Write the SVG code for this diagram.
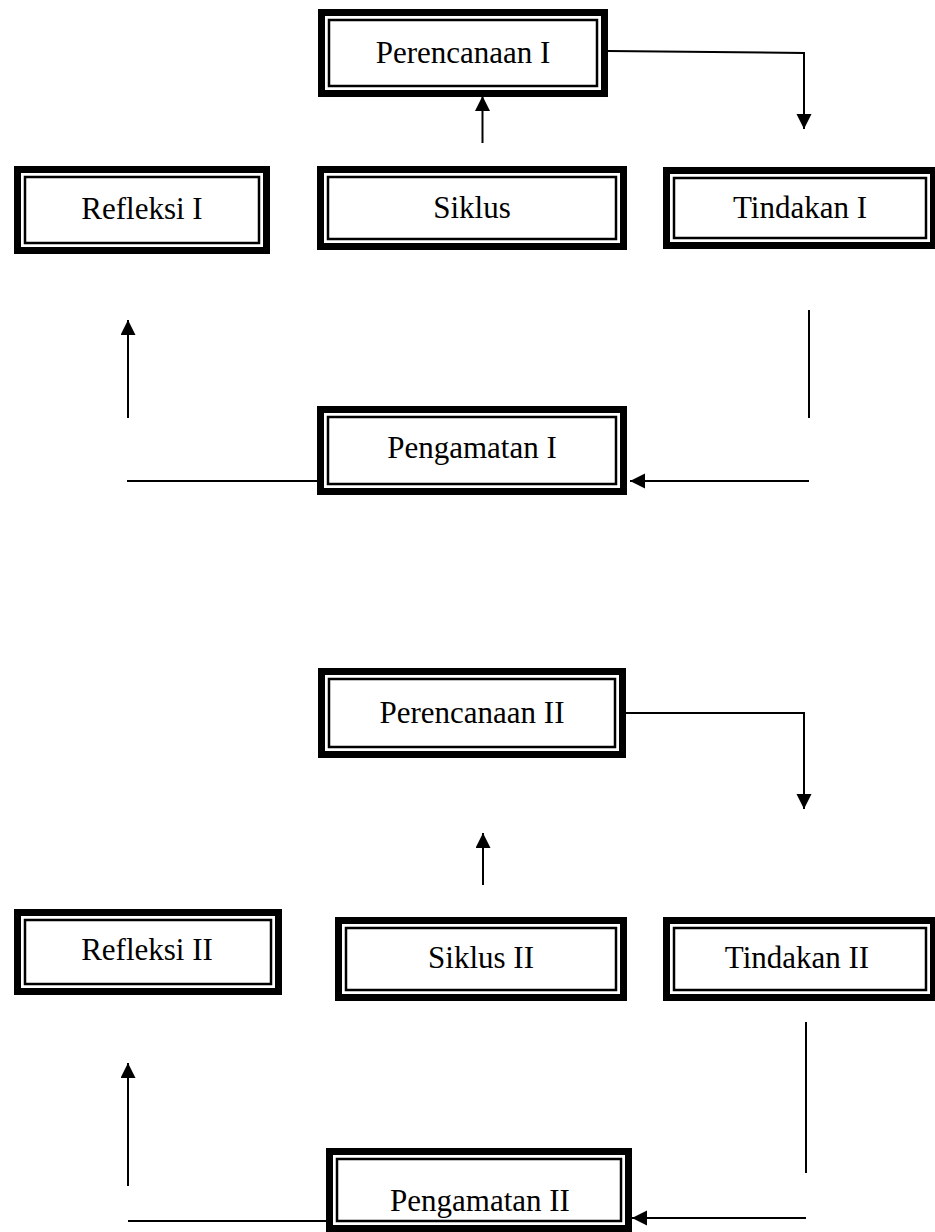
<svg xmlns="http://www.w3.org/2000/svg" width="935" height="1232" viewBox="0 0 935 1232">
<style>
.o{fill:#fff;stroke:#000;stroke-width:7}
.i{fill:none;stroke:#000;stroke-width:2.5}
.t{font-family:"Liberation Serif","Times New Roman",serif;font-size:31px;fill:#000;text-anchor:middle}
.c{fill:none;stroke:#000;stroke-width:2}
</style>
<defs>
<marker id="ah" markerUnits="userSpaceOnUse" markerWidth="16" markerHeight="16" refX="15" refY="7.5" orient="auto">
<path d="M0,0 L15,7.5 L0,15 Z" fill="#000"/>
</marker>
</defs>
<rect width="935" height="1232" fill="#fff"/>
<g id="connectors">
<polyline class="c" points="608,51 804,53 804,129" marker-end="url(#ah)"/>
<line class="c" x1="482.5" y1="143" x2="482.5" y2="96" marker-end="url(#ah)"/>
<line class="c" x1="809" y1="310" x2="809" y2="418"/>
<line class="c" x1="809" y1="481" x2="630" y2="481" marker-end="url(#ah)"/>
<line class="c" x1="127" y1="481" x2="317" y2="481"/>
<line class="c" x1="128" y1="418" x2="128" y2="320" marker-end="url(#ah)"/>
<polyline class="c" points="626,713 804,713 804,809" marker-end="url(#ah)"/>
<line class="c" x1="483" y1="885" x2="483" y2="833" marker-end="url(#ah)"/>
<line class="c" x1="806" y1="1022" x2="806" y2="1173"/>
<line class="c" x1="806" y1="1218" x2="632" y2="1218" marker-end="url(#ah)"/>
<line class="c" x1="128" y1="1221" x2="326" y2="1221"/>
<line class="c" x1="128" y1="1186" x2="128" y2="1063" marker-end="url(#ah)"/>
</g>
<g id="perencanaan1">
<rect class="o" x="321.5" y="12.5" width="283" height="81"/>
<rect class="i" x="329" y="20" width="268" height="66"/>
<text class="t" x="463" y="63">Perencanaan I</text>
</g>
<g id="refleksi1">
<rect class="o" x="17.5" y="169.5" width="249" height="81"/>
<rect class="i" x="25" y="177" width="234" height="66"/>
<text class="t" x="142" y="219">Refleksi I</text>
</g>
<g id="siklus1">
<rect class="o" x="320.5" y="169.5" width="303" height="77"/>
<rect class="i" x="328" y="177" width="288" height="62"/>
<text class="t" x="472" y="218">Siklus</text>
</g>
<g id="tindakan1">
<rect class="o" x="666.5" y="170.5" width="267" height="75"/>
<rect class="i" x="674" y="178" width="252" height="60"/>
<text class="t" x="800" y="218">Tindakan I</text>
</g>
<g id="pengamatan1">
<rect class="o" x="320.5" y="409.5" width="303" height="82"/>
<rect class="i" x="328" y="417" width="288" height="67"/>
<text class="t" x="472" y="458">Pengamatan I</text>
</g>
<g id="perencanaan2">
<rect class="o" x="321.5" y="671.5" width="301" height="83"/>
<rect class="i" x="329" y="679" width="286" height="68"/>
<text class="t" x="472" y="723">Perencanaan II</text>
</g>
<g id="refleksi2">
<rect class="o" x="17.5" y="912.5" width="261" height="79"/>
<rect class="i" x="25" y="920" width="246" height="64"/>
<text class="t" x="147" y="960">Refleksi II</text>
</g>
<g id="siklus2">
<rect class="o" x="338.5" y="920.5" width="285" height="77"/>
<rect class="i" x="346" y="928" width="270" height="62"/>
<text class="t" x="481" y="968">Siklus II</text>
</g>
<g id="tindakan2">
<rect class="o" x="666.5" y="920.5" width="267" height="77"/>
<rect class="i" x="674" y="928" width="252" height="62"/>
<text class="t" x="797" y="968">Tindakan II</text>
</g>
<g id="pengamatan2">
<rect class="o" x="329.5" y="1151.5" width="299" height="77"/>
<rect class="i" x="337" y="1159" width="284" height="62"/>
<text class="t" x="480" y="1211">Pengamatan II</text>
</g>
</svg>
